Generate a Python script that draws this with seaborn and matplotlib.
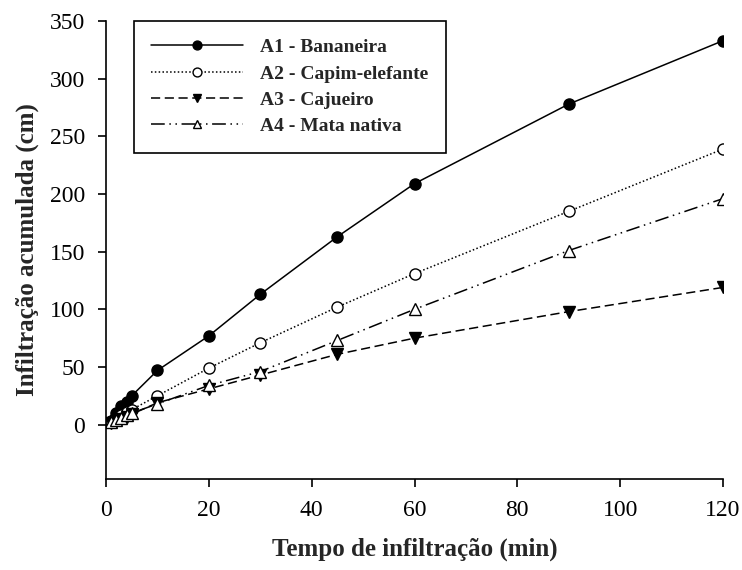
import numpy as np
import pandas as pd
import matplotlib
matplotlib.use("Agg")
import matplotlib.pyplot as plt
import seaborn as sns

# tempo (min) e infiltração acumulada (cm)
tempo = [1, 2, 3, 4, 5, 10, 20, 30, 45, 60, 90, 120]
a1 = [3, 10, 16, 20, 25, 47, 77, 113, 163, 209, 278, 333]
a2 = [2, 5, 8, 11, 13, 25, 49, 71, 102, 131, 185, 239]
a3 = [1, 3, 5, 7, 9, 19, 31, 43, 61, 75, 98, 119]
a4 = [2, 4, 6, 8, 10, 18, 34, 46, 73, 100, 151, 196]
nomes = ["A1 - Bananeira", "A2 - Capim-elefante", "A3 - Cajueiro", "A4 - Mata nativa"]

sns.set_style("ticks")
plt.rcParams["font.family"] = ["Liberation Serif", "DejaVu Serif"]

fig = plt.figure(figsize=(7.42, 5.70), dpi=100)
ax = fig.add_axes([0.1429, 0.160, 0.8315, 0.803])

estilos = [
    dict(marker="o", mfc="black", ls="-"),
    dict(marker="o", mfc="white", ls=(0, (1, 1.5))),
    dict(marker="v", mfc="black", ls=(0, (6, 3))),
    dict(marker="^", mfc="white", ls=(0, (9, 3, 1, 3, 1, 3))),
]

for y, nome, st in zip([a1, a2, a3, a4], nomes, estilos):
    df = pd.DataFrame({"t": tempo, "v": y})
    sns.lineplot(data=df, x="t", y="v", ax=ax, color="black", lw=1.1,
                 marker=st["marker"], markerfacecolor=st["mfc"],
                 markeredgecolor="black", markersize=8, markeredgewidth=1,
                 linestyle=st["ls"], label=nome)

ax.set_xlim(0, 120)
ax.set_ylim(-47, 350)
ax.set_xticks(np.arange(0, 121, 20))
ax.set_yticks(np.arange(0, 351, 50))
sns.despine(ax=ax)
for s in ["left", "bottom"]:
    ax.spines[s].set_linewidth(1.2)
    ax.spines[s].set_color("black")
ax.tick_params(direction="out", length=6, width=1.2, labelsize=17, pad=9, colors="black")

ax.set_xlabel("Tempo de infiltração (min)", fontsize=18, fontweight="bold", labelpad=12)
ax.set_ylabel("Infiltração acumulada (cm)", fontsize=18, fontweight="bold", labelpad=8)

leg = ax.legend(loc="upper left", bbox_to_anchor=(0.045, 1.0), borderaxespad=0,
                fancybox=False, edgecolor="black", framealpha=1,
                prop={"weight": "bold", "size": 14}, handlelength=4.7,
                labelspacing=0.45, borderpad=0.9, handletextpad=0.9,
                markerscale=0.8)
leg.get_frame().set_linewidth(1.2)

fig.savefig("out.png", dpi=100)
